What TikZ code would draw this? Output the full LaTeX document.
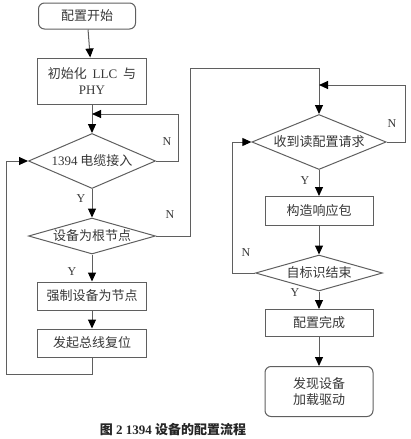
\documentclass[tikz,border=0pt]{standalone}
\usepackage{fontspec}
\setmainfont{Liberation Serif}
\newfontfamily\cjk{Noto Sans CJK SC}
\usetikzlibrary{arrows.meta,shapes.geometric}
\definecolor{ln}{RGB}{95,95,95}
\definecolor{tx}{RGB}{55,55,55}
\tikzset{
  every node/.style={text=tx},
  proc/.style={draw=ln, line width=1pt, rectangle, minimum width=109pt, align=center, font=\fontsize{13}{16}\selectfont\cjk, inner sep=1pt},
  term/.style={proc, rounded corners=6pt},
  dec/.style={draw=ln, line width=1pt, diamond, aspect=3.6, inner sep=0pt, font=\fontsize{13}{16}\selectfont\cjk},
  lbl/.style={font=\fontsize{12}{14}\selectfont},
  conn/.style={draw=ln, line width=1pt},
  arr/.style={conn, -{Triangle[length=9pt,width=8pt,color=black]}},
}
\begin{document}
\begin{tikzpicture}[x=1pt,y=-1pt]
\useasboundingbox (0,0) rectangle (410,439);
% left column
\node[term, minimum width=97pt, minimum height=26pt] (start) at (87,16) {配置开始};
\node[proc, minimum height=46pt] (init) at (92,81) {初始化\ \ {\rmfamily LLC}\ \ 与\\{\rmfamily PHY}};
\node[dec, minimum width=127pt, minimum height=55pt] (d1) at (92,161) {{\rmfamily 1394} 电缆接入};
\node[dec, minimum width=127pt, minimum height=36pt, aspect=3.5] (d2) at (92,236) {设备为根节点};
\node[proc, minimum height=28pt] (force) at (92,296) {强制设备为节点};
\node[proc, minimum height=28pt] (reset) at (92,343) {发起总线复位};
% right column
\node[dec, minimum width=127pt, minimum height=55pt] (d3) at (319,142) {收到读配置请求};
\node[proc, minimum width=108pt, minimum height=29pt] (resp) at (319,211) {构造响应包};
\node[dec, minimum width=127pt, minimum height=36pt, aspect=3.5] (d4) at (319,273) {自标识结束};
\node[proc, minimum width=108pt, minimum height=27pt] (done) at (319,323) {配置完成};
\node[term, minimum width=108pt, minimum height=50pt, anchor=north] (found) at (319,366) {发现设备\\加载驱动};
% coordinates
\coordinate (j1) at (92,114);
\coordinate (j3) at (319,85);
% connectors left
\draw[arr] (start) -- (init);
\draw[arr] (init) -- (d1);
\draw[arr] (d1.east) -- (178,161) -- (178,114) -- (j1);
\draw[arr] (d1) -- (d2);
\draw[arr] (d2) -- (force);
\draw[arr] (force) -- (reset);
\draw[arr] (reset.south) -- (92,374) -- (6,374) -- (6,161) -- (d1.west);
\draw[arr] (d2.east) -- (190,236) -- (190,68) -- (319,68) -- (d3.north);
% connectors right
\draw[arr] (d3.east) -- (405,142) -- (405,85) -- (j3);
\draw[arr] (d3) -- (resp);
\draw[arr] (resp) -- (d4);
\draw[arr] (d4.west) -- (232,273) -- (232,142) -- (d3.west);
\draw[arr] (d4) -- (done);
\draw[arr] (done) -- (found);
% labels
\node[lbl] (n1) at (167,142) {N};
\node[lbl] (y1) at (81,199) {Y};
\node[lbl] (n2) at (170,215) {N};
\node[lbl] (y2) at (72,272) {Y};
\node[lbl] (n3) at (392,124) {N};
\node[lbl] (y3) at (305,181) {Y};
\node[lbl] (n4) at (246,253) {N};
\node[lbl] (y4) at (295,293) {Y};
% caption
\node[font=\fontsize{13}{15}\selectfont\bfseries, text=black!85] (cap) at (173,430) {{\cjk 图} 2 1394 {\cjk 设备的配置流程}};
\end{tikzpicture}
\end{document}
